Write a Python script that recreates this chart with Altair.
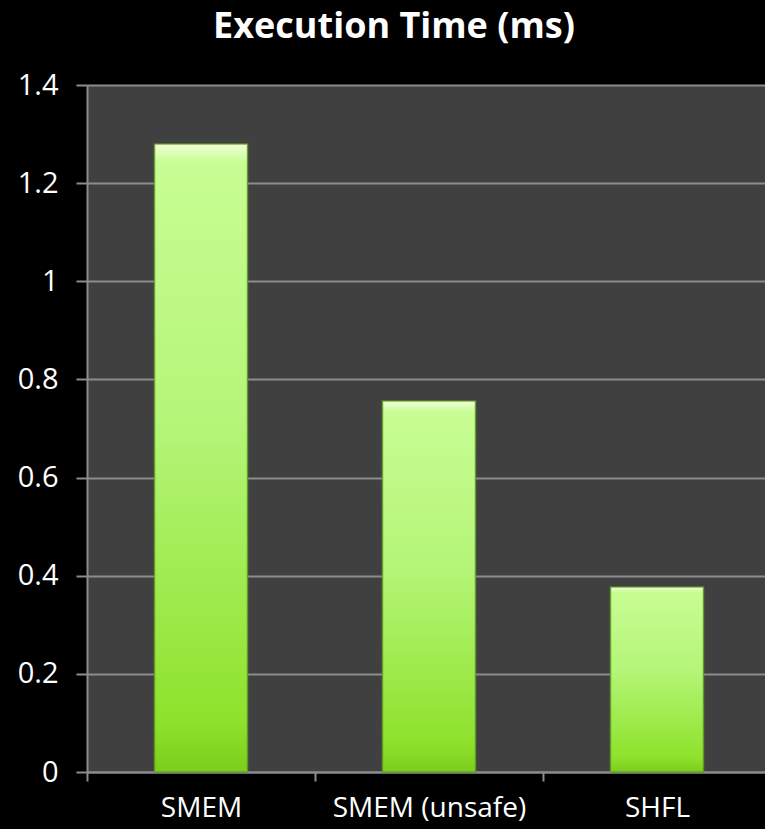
import altair as alt
import pandas as pd

categories = ["SMEM", "SMEM (unsafe)", "SHFL"]
exec_ms = [1.28, 0.756, 0.377]
y_ticks = [0, 0.2, 0.4, 0.6, 0.8, 1.0, 1.2, 1.4]

df = pd.DataFrame({"cat": categories, "ms": exec_ms})

grad = alt.Gradient(
    gradient="linear",
    stops=[
        alt.GradientStop(color="#f2ffd8", offset=0.0),
        alt.GradientStop(color="#c8fd93", offset=0.03),
        alt.GradientStop(color="#b4f577", offset=0.45),
        alt.GradientStop(color="#8ee22c", offset=0.92),
        alt.GradientStop(color="#7ccd1c", offset=1.0),
    ],
    x1=0, x2=0, y1=0, y2=1,
)

x_enc = alt.X(
    "cat:N",
    sort=categories,
    title=None,
    scale=alt.Scale(paddingInner=0, paddingOuter=0, range=[0, 684]),
    axis=alt.Axis(
        labelAngle=0,
        labelColor="white",
        labelFont="Open Sans",
        labelFontSize=28,
        labelPadding=13,
        labelLimit=400,
        tickBand="extent",
        tickColor="#8c8c8c",
        tickSize=9,
        tickWidth=2,
        domainColor="#8c8c8c",
        domainWidth=2,
        grid=False,
    ),
)
y_enc = alt.Y(
    "ms:Q",
    title=None,
    scale=alt.Scale(domain=[0, 1.4], nice=False),
    axis=alt.Axis(
        values=y_ticks,
        format="~g",
        labelColor="white",
        labelFont="Open Sans",
        labelFontSize=29,
        labelPadding=18,
        tickColor="#8c8c8c",
        tickSize=11,
        tickWidth=2,
        domainColor="#8c8c8c",
        domainWidth=2,
        gridColor="#8c8c8c",
        gridWidth=2,
    ),
)

bars = alt.Chart(df).mark_bar(
    size=93,
    fill=grad,
    stroke="#5f9a22",
    strokeWidth=1.5,
    strokeOpacity=0.8,
).encode(x=x_enc, y=y_enc)

chart = bars.properties(
    width=678,
    height=687,
    background="black",
    padding={"left": 87, "top": 85, "right": 0, "bottom": 57},
    autosize=alt.AutoSizeParams(type="none"),
    title=alt.TitleParams(
        "Execution Time (ms)",
        color="white",
        font="Open Sans",
        fontSize=36,
        fontWeight="bold",
        anchor="middle",
        frame="group",
        dx=-32,
        offset=25,
    ),
).configure_view(fill="#404040", stroke=None)

chart.save("out.html", embed_options={"renderer": "svg", "actions": False})
